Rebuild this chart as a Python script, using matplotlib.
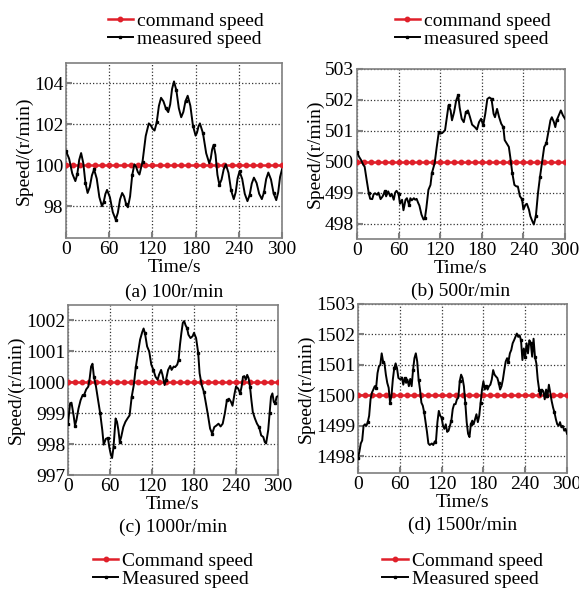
import matplotlib
matplotlib.use("Agg")
import matplotlib.pyplot as plt
import numpy as np

plt.rcParams['font.family'] = ['Liberation Serif', 'DejaVu Serif']
plt.rcParams['font.size'] = 14

# ---- data ----
t_cmd = list(range(0, 301, 10))

# (a) 100 r/min
t_a = [0, 4.3, 8.7, 13, 15.7, 18.3, 21, 24, 27, 30, 33, 36, 39, 42.7, 46.3, 50, 52.3, 54.7, 57,
       61, 65, 69, 72, 75, 78, 80.7, 83.3, 86, 89, 92, 95, 97.3, 99.7, 102, 106.3, 110.7, 115,
       117.7, 120.3, 123, 126, 129, 132, 135.3, 138.7, 142, 144.7, 147.3, 150, 153.3, 156.7, 160,
       163, 166, 169, 172.7, 176.3, 180, 182, 184, 186, 190.3, 194.7, 199, 201, 203, 205, 207.7,
       210.3, 213, 216, 219, 222, 225.7, 229.3, 233, 235.7, 238.3, 241, 244.7, 248.3, 252, 255,
       258, 261, 264.7, 268.3, 272, 275, 278, 281, 284.7, 288.3, 292, 294.7, 297.3, 300]
v_a = [100.7, 100.33, 99.6, 99.23, 99.57, 100.26, 100.6, 100.11, 99.14, 98.65, 98.94, 99.51, 99.8,
       99.35, 98.45, 98.0, 98.2, 98.6, 98.8, 98.44, 97.71, 97.35, 97.68, 98.33, 98.65, 98.48, 98.13,
       97.95, 98.48, 99.53, 100.05, 99.93, 99.68, 99.55, 100.18, 101.43, 102.05, 101.96, 101.79,
       101.7, 102.1, 102.9, 103.3, 103.13, 102.78, 102.6, 102.98, 103.73, 104.1, 103.66, 102.79,
       102.35, 102.61, 103.14, 103.4, 102.91, 101.94, 101.45, 101.6, 101.9, 102.05, 101.56, 100.59,
       100.1, 100.33, 100.78, 101.0, 100.51, 99.54, 99.05, 99.3, 99.8, 100.05, 99.63, 98.78, 98.35,
       98.69, 99.36, 99.7, 99.34, 98.61, 98.25, 98.54, 99.11, 99.4, 99.14, 98.61, 98.35, 98.68,
       99.33, 99.65, 99.31, 98.64, 98.3, 98.68, 99.43, 99.8]

# (b) 500 r/min
t_b = [0, 3, 6, 9, 11, 14, 17, 19, 22, 24, 26, 29, 31, 34, 37, 40, 42, 45, 48, 50, 53, 55, 57, 60,
       62, 65, 67, 70, 72, 75, 77, 79, 82, 84, 86, 88, 90, 93, 96, 98, 100, 103, 106, 108, 112, 115,
       118, 120, 123, 127, 130, 132, 135, 137, 140, 143, 146, 148, 151, 154, 157, 160, 163, 166,
       170, 173, 176, 179, 182, 185, 188, 191, 194, 197, 199, 202, 205, 208, 211, 213, 216, 219,
       221, 224, 227, 230, 232, 235, 238, 240, 243, 245, 248, 250, 253, 255, 258, 261, 264, 267,
       270, 273, 276, 279, 281, 284, 286, 288, 291, 294, 297, 300]
v_b = [500.32, 500.16, 500.05, 499.9, 499.84, 499.4, 498.98, 498.8, 498.79, 498.95, 498.98, 498.93,
       499.0, 498.79, 498.88, 499.04, 498.88, 499.04, 498.88, 498.96, 498.77, 499.0, 499.06, 498.96,
       498.64, 498.77, 498.43, 498.77, 498.82, 498.61, 498.82, 498.75, 498.82, 498.77, 498.8, 498.68,
       498.58, 498.29, 498.13, 498.18, 498.5, 499.09, 499.25, 499.63, 499.95, 500.48, 500.96, 500.91,
       500.93, 501.02, 501.5, 501.82, 501.66, 501.34, 501.6, 501.98, 502.16, 501.76, 501.39, 501.28,
       501.6, 501.66, 501.44, 501.2, 501.12, 501.04, 501.28, 501.39, 501.18, 501.55, 502.03, 502.08,
       502.03, 501.55, 501.44, 501.71, 501.44, 501.23, 501.12, 500.7, 500.59, 500.48, 500.16, 499.63,
       499.25, 499.2, 499.2, 498.88, 498.79, 498.45, 498.61, 498.64, 498.45, 498.24, 498.07, 497.97,
       498.24, 498.98, 499.52, 500.0, 500.48, 500.59, 500.96, 501.34, 501.44, 501.28, 501.12, 501.34,
       501.5, 501.66, 501.5, 501.39]

# (c) 1000 r/min
t_c = [0, 3, 5, 8, 10, 12, 15, 18, 21, 23, 26, 29, 31, 33, 35, 37, 40, 43, 46, 49, 51, 54, 57, 59,
       61, 63, 65, 68, 70, 72, 74, 76, 79, 82, 85, 88, 91, 94, 97, 100, 103, 106, 108, 110, 113,
       116, 119, 122, 125, 128, 130, 133, 135, 138, 140, 143, 146, 148, 151, 153, 156, 158, 160,
       162, 164, 166, 168, 170, 172, 175, 178, 180, 183, 186, 188, 191, 194, 197, 200, 203, 206,
       209, 212, 215, 218, 221, 224, 227, 230, 233, 235, 238, 240, 243, 246, 248, 250, 252, 254,
       256, 258, 260, 262, 264, 267, 270, 273, 276, 279, 281, 283, 286, 288, 290, 292, 294, 296,
       298, 300]
v_c = [998.66, 999.32, 999.34, 998.93, 998.6, 998.77, 999.15, 999.42, 999.59, 999.59, 999.77,
       999.86, 1000.13, 1000.51, 1000.6, 1000.18, 999.86, 999.42, 998.99, 998.45, 997.98, 998.17,
       998.2, 997.9, 997.68, 997.55, 997.9, 998.83, 998.72, 998.45, 998.07, 998.23, 998.55, 998.72,
       998.83, 998.93, 999.53, 999.91, 1000.51, 1000.95, 1001.38, 1001.62, 1001.74, 1001.58,
       1001.16, 1001.0, 1000.57, 1000.4, 1000.18, 1000.08, 1000.24, 1000.4, 1000.24, 999.91,
       1000.08, 1000.4, 1000.53, 1000.4, 1000.51, 1000.49, 1000.57, 1000.73, 1001.22, 1001.6,
       1001.92, 1001.98, 1001.84, 1001.76, 1001.54, 1001.43, 1001.49, 1001.6, 1001.43, 1000.95,
       1000.29, 999.91, 999.7, 999.32, 998.93, 998.5, 998.34, 998.55, 998.6, 998.66, 998.57, 998.66,
       998.99, 999.42, 999.47, 999.36, 999.24, 999.64, 999.86, 999.8, 999.64, 999.86, 1000.18,
       1000.2, 1000.08, 1000.24, 1000.13, 999.86, 999.42, 999.04, 998.83, 998.66, 998.55, 998.28,
       998.23, 998.07, 998.02, 998.45, 998.99, 999.53, 999.64, 999.36, 999.32, 999.53, 999.55]

# (d) 1500 r/min
t_d = list(range(0, 60, 2)) + [61, 63, 65, 67, 69, 71, 73, 75, 77, 79, 81, 83, 85, 87, 89, 91,
       93, 95, 97, 99, 101, 103] + list(range(106, 301, 2))
v_d = [1497.94, 1498.15, 1498.42, 1498.52, 1499.0, 1499.05, 1499.0, 1499.12, 1499.33, 1499.87,
       1500.09, 1500.19, 1500.3, 1500.25, 1500.73, 1500.95, 1501.0, 1501.38, 1501.11, 1501.05,
       1500.68, 1500.41, 1500.25, 1499.76, 1499.98, 1500.52, 1500.89, 1501.05, 1500.89, 1500.57,
       1500.52, 1500.59, 1500.35, 1500.57, 1500.41, 1500.52, 1500.3, 1500.54, 1500.3, 1500.83,
       1501.22, 1501.38, 1501.11, 1500.52, 1500.19, 1499.76, 1499.66, 1499.44, 1499.12, 1498.8,
       1498.42, 1498.37,
       1498.42, 1498.37, 1498.47, 1498.52, 1499.12, 1499.49, 1499.33, 1499.27, 1499.0, 1498.9,
       1499.05, 1498.8, 1498.84, 1499.0, 1499.17, 1499.55, 1499.71, 1499.71, 1499.87, 1499.92,
       1500.46, 1500.68, 1500.57, 1500.3, 1499.76, 1499.12, 1498.74, 1498.63, 1499.05, 1499.17,
       1499.05, 1499.22, 1499.38, 1499.12, 1499.33, 1499.76, 1500.19, 1500.46, 1500.19, 1500.3,
       1500.19, 1500.3, 1500.35, 1500.52, 1500.83, 1500.68, 1500.62, 1500.57, 1500.41, 1500.19,
       1500.3, 1500.52, 1500.83, 1501.11, 1501.22, 1501.11, 1501.38, 1501.49, 1501.71, 1501.81,
       1501.92, 1502.03, 1501.92, 1501.97, 1501.81, 1501.16, 1501.54, 1501.27, 1501.71, 1501.38,
       1501.81, 1501.71, 1501.27, 1501.86, 1501.27, 1501.05, 1500.52, 1500.19, 1499.98, 1500.19,
       1500.14, 1499.87, 1500.19, 1499.98, 1500.35, 1500.09, 1499.81, 1499.6, 1499.44, 1499.22,
       1499.05, 1499.0, 1499.12, 1498.95, 1499.0, 1498.84, 1498.9, 1498.74]

panels = [
    # t, v, command, ylim, yticks, caption, legend labels, legend at top?
    (t_a, v_a, 100, (96.45, 105), [98, 100, 102, 104], "(a) 100r/min",
     ["command speed", "measured speed"], True),
    (t_b, v_b, 500, (497.5, 503), [498, 499, 500, 501, 502, 503], "(b) 500r/min",
     ["command speed", "measured speed"], True),
    (t_c, v_c, 1000, (997, 1002.5), [997, 998, 999, 1000, 1001, 1002], "(c) 1000r/min",
     ["Command speed", "Measured speed"], False),
    (t_d, v_d, 1500, (1497.45, 1503), [1498, 1499, 1500, 1501, 1502, 1503], "(d) 1500r/min",
     ["Command speed", "Measured speed"], False),
]

W, H = 579, 589
boxes = [(66, 63, 282, 238), (357, 69, 565, 239), (68, 305, 278, 475), (358, 304, 567, 473)]

fig = plt.figure(figsize=(W / 100, H / 100), dpi=100)

for (t, v, cmd, ylim, yt, cap, labs, top), (x0, y0, x1, y1) in zip(panels, boxes):
    ax = fig.add_axes([x0 / W, 1 - y1 / H, (x1 - x0) / W, (y1 - y0) / H])
    l1, = ax.plot(t_cmd, [cmd] * len(t_cmd), color='#e0202a', lw=1.8, marker='o', ms=3.2,
                  zorder=3)
    l2, = ax.plot(t, v, color='black', lw=1.4, marker='s', ms=2.0, markevery=0.15, zorder=4)
    ax.set_xlim(0, 300)
    ax.set_ylim(*ylim)
    ax.set_xticks([0, 60, 120, 180, 240, 300])
    ax.set_yticks(yt)
    ax.grid(True, linestyle=':', color='#333333', lw=0.9)
    for s in ax.spines.values():
        s.set_color('#7f7f7f')
        s.set_linewidth(1.2)
    ax.tick_params(direction='in', length=4, width=1.5, color='#7f7f7f', pad=2,
                   labelsize=14)
    ax.set_ylabel("Speed/(r/min)", fontsize=14, labelpad=1)
    ax.set_xlabel("Time/s", fontsize=14, labelpad=1)
    cx = (x0 + x1) / 2 / W
    ax.text(0.5, -0.31, cap, transform=ax.transAxes, ha='center', va='center', fontsize=14)
    if top:
        fig.legend([l1, l2], labs, loc='center', bbox_to_anchor=(cx + 0.02, 1 - 30 / H),
                   frameon=False, fontsize=14, handlelength=1.3, handletextpad=0.2,
                   labelspacing=0.05, borderpad=0)
    else:
        fig.legend([l1, l2], labs, loc='center', bbox_to_anchor=(cx, 1 - 570 / H),
                   frameon=False, fontsize=14, handlelength=1.3, handletextpad=0.2,
                   labelspacing=0.05, borderpad=0)

fig.savefig("out.png", dpi=100)
